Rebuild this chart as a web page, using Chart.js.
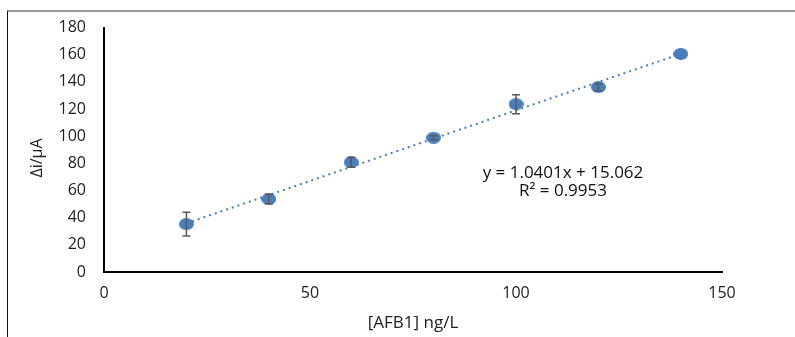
<!DOCTYPE html>
<html>
<head>
<meta charset="utf-8">
<script src="https://cdn.jsdelivr.net/npm/chart.js@4"></script>
<style>
  html, body { margin: 0; padding: 0; background: #fff; }
  #wrap { position: relative; width: 795px; height: 337px; }
  #frame { position: absolute; left: 7px; top: 10px; right: 0; bottom: 0;
           border-top: 2px solid #9a9a9a; border-left: 1.5px solid #111; }
  canvas { position: absolute; left: 0; top: 0; }
</style>
</head>
<body>
<div id="wrap">
  <div id="frame"></div>
  <canvas id="calChart" width="795" height="337"></canvas>
</div>
<script>
// CALIBRATION DATA

const conc = [20, 40, 60, 80, 100, 120, 140];
const signal = [35.3, 53.7, 80.8, 98.9, 123.6, 136.2, 160.6];
const errors = [8.7, 3.5, 3.6, 1.5, 7.0, 2.5, 0];

const slope = 1.0401;
const intercept = 15.062;
const eqLines = ["y = 1.0401x + 15.062", "R² = 0.9953"];
const yTitle = "Δi/μA";
const xTitle = "[AFB1] ng/L";

const xTicks = [0, 50, 100, 150];
const yTicks = [0, 20, 40, 60, 80, 100, 120, 140, 160, 180];

const FONT = "'Open Sans', sans-serif";
const BLUE = "#4a7ebb";

const points = conc.map((x, i) => ({ x: x, y: signal[i] }));
const trend = [conc[0], conc[conc.length - 1]].map(x => ({ x: x, y: slope * x + intercept }));

// the original picture is a bit stretched sideways, so markers are ellipses
const marker = document.createElement("canvas");
marker.width = 15;
marker.height = 12;
const mctx = marker.getContext("2d");
mctx.fillStyle = BLUE;
mctx.beginPath();
mctx.ellipse(7.5, 6, 7.5, 6, 0, 0, Math.PI * 2);
mctx.fill();

const errBars = {
  id: "errBars",
  afterDatasetsDraw(chart) {
    const c = chart.ctx;
    const xs = chart.scales.x;
    const ys = chart.scales.y;
    c.save();
    c.strokeStyle = "#595959";
    c.lineWidth = 1.5;
    conc.forEach((x, i) => {
      if (!errors[i]) return;
      const px = xs.getPixelForValue(x);
      const top = ys.getPixelForValue(signal[i] + errors[i]);
      const bot = ys.getPixelForValue(signal[i] - errors[i]);
      c.beginPath();
      c.moveTo(px, top); c.lineTo(px, bot);
      c.moveTo(px - 4, top); c.lineTo(px + 4, top);
      c.moveTo(px - 4, bot); c.lineTo(px + 4, bot);
      c.stroke();
    });
    c.restore();
  },
  afterDraw(chart) {
    const c = chart.ctx;
    const xs = chart.scales.x;
    const ys = chart.scales.y;
    c.save();
    c.fillStyle = "#111";
    c.font = "17px " + FONT;
    c.textAlign = "center";
    c.textBaseline = "middle";
    const lx = xs.getPixelForValue(111.4);
    c.fillText(eqLines[0], lx, ys.getPixelForValue(72.6));
    c.fillText(eqLines[1], lx, ys.getPixelForValue(59.5));
    // y axis title, sits a little below the middle like the original
    c.fillStyle = "#222";
    c.font = "16px " + FONT;
    c.translate(37, 158);
    c.rotate(-Math.PI / 2);
    c.fillText(yTitle, 0, 0);
    c.restore();
  }
};

new Chart(document.getElementById("calChart"), {
  type: "scatter",
  data: {
    datasets: [
      {
        label: "trend",
        type: "line",
        data: trend,
        borderColor: BLUE,
        borderWidth: 2,
        borderDash: [2, 4],
        pointRadius: 0,
        fill: false,
        order: 2,
      },
      {
        label: "Δi",
        data: points,
        pointStyle: marker,
        pointRadius: 7,
        order: 1,
      },
    ],
  },
  options: {
    responsive: false,
    animation: false,
    layout: { padding: { left: 15, right: 73, top: 24, bottom: 0 } },
    plugins: { legend: { display: false }, tooltip: { enabled: false } },
    scales: {
      x: {
        type: "linear",
        min: 0,
        max: 150,
        afterBuildTicks: s => { s.ticks = xTicks.map(v => ({ value: v })); },
        afterFit: s => { s.height = 65; },
        grid: { display: false, drawTicks: false },
        border: { color: "#000", width: 2 },
        ticks: { color: "#222", font: { family: FONT, size: 16 }, padding: 12 },
        title: { display: true, text: xTitle, color: "#222", font: { family: FONT, size: 17 }, padding: { top: 2 } },
      },
      y: {
        min: 0,
        max: 180,
        afterBuildTicks: s => { s.ticks = yTicks.map(v => ({ value: v })); },
        afterFit: s => { s.width = 89; },
        grid: { display: false, drawTicks: false },
        border: { color: "#000", width: 2 },
        ticks: { color: "#222", font: { family: FONT, size: 16 }, padding: 18 },
        title: { display: false },
      },
    },
  },
  plugins: [errBars],
});
</script>
</body>
</html>
